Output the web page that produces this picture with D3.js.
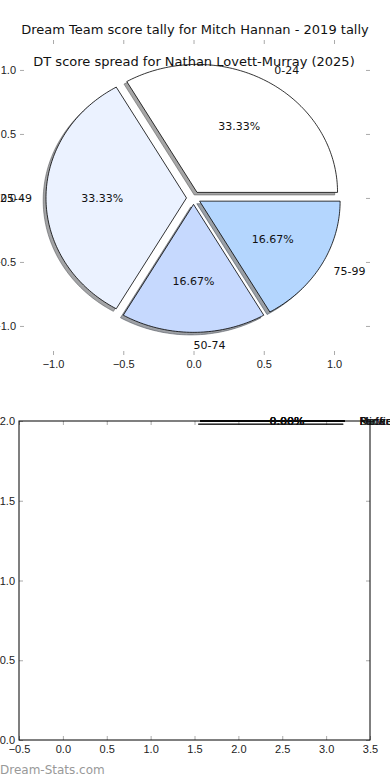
<!DOCTYPE html>
<html>
<head>
<meta charset="utf-8">
<script src="https://cdn.jsdelivr.net/npm/d3@7"></script>
<style>
  body { margin: 0; background: #fff; }
  svg { display: block; font-family: "DejaVu Sans", sans-serif; }
  .tick line { stroke: #aaa; }
  .tick text { fill: #222; font-size: 11px; }
</style>
</head>
<body>
<div id="chart"></div>
<script>
// top pie: score buckets
var buckets = ["0-24", "25-49", "50-74", "75-99"];
var bucketCounts = [2, 2, 1, 1];
var bucketColors = ["#ffffff", "#ebf2ff", "#c6d9fe", "#b4d6fe"];
var pieTicks = [-1.0, -0.5, 0.0, 0.5, 1.0];

// bottom pie: positions, all empty
var positions = ["Defender", "Midfield", "Ruck", "Forward"];
var positionCounts = [0, 0, 0, 0];
var bottomXTicks = [-0.5, 0.0, 0.5, 1.0, 1.5, 2.0, 2.5, 3.0, 3.5];
var bottomYTicks = [0.0, 0.5, 1.0, 1.5, 2.0];

var titleMain = "Dream Team score tally for Mitch Hannan - 2019 tally";
var titleSub = "DT score spread for Nathan Lovett-Murray (2025)";

var W = 390, H = 780;
var svg = d3.select('#chart').append('svg')
	.attr('width', W)
	.attr('height', H);

svg.append('rect').attr('width', W).attr('height', H).attr('fill', '#fff');

var fmt = d3.format('.1f');

// ---------- top axes ----------
var x1 = d3.scaleLinear().domain([-1.235, 1.256]).range([20, 370]),
    y1 = d3.scaleLinear().domain([-1.227, 1.234]).range([355, 40]);

var pieG = svg.append('g');

function tickAxis(g, axis, transform) {
	var a = g.append('g').attr('transform', transform).call(axis);
	a.select('.domain').remove();
	return a;
}

tickAxis(pieG, d3.axisBottom(x1).tickValues(pieTicks).tickFormat(fmt).tickSize(-4).tickPadding(5), 'translate(0,355)');
tickAxis(pieG, d3.axisTop(x1).tickValues(pieTicks).tickFormat('').tickSize(-4), 'translate(0,40)');
tickAxis(pieG, d3.axisLeft(y1).tickValues(pieTicks).tickFormat(fmt).tickSize(-4).tickPadding(4), 'translate(20,0)');
tickAxis(pieG, d3.axisRight(y1).tickValues(pieTicks).tickFormat('').tickSize(-4), 'translate(370,0)');

var explode = 0.05;
var arcs = d3.pie().sort(null)(bucketCounts);

// wedge path in data coords -> pixels (aspect not equal, so ellipse)
function wedgePath(cx, cy, r, a0, a1, sx, sy) {
	var pts = [[cx, cy]];
	var n = Math.max(2, Math.ceil((a1 - a0) / 0.02));
	d3.range(n + 1).forEach(function(i) {
		var t = a0 + (a1 - a0) * i / n;
		pts.push([cx + r * Math.cos(t), cy + r * Math.sin(t)]);
	});
	return d3.line().x(function(p) { return sx(p[0]); }).y(function(p) { return sy(p[1]); })(pts) + 'Z';
}

function shadowColor(c) {
	var k = d3.rgb(c);
	return d3.rgb(k.r * 0.3, k.g * 0.3, k.b * 0.3).toString();
}

var slices = arcs.map(function(a, i) {
	var mid = (a.startAngle + a.endAngle) / 2;
	return {
		label: buckets[i], color: bucketColors[i],
		a0: a.startAngle, a1: a.endAngle, mid: mid,
		cx: explode * Math.cos(mid), cy: explode * Math.sin(mid),
		pct: (a.endAngle - a.startAngle) / (2 * Math.PI) * 100
	};
});

slices.forEach(function(s) {
	var sc = shadowColor(s.color);
	pieG.append('path')
		.attr('d', wedgePath(s.cx - 0.02, s.cy - 0.02, 1, s.a0, s.a1, x1, y1))
		.attr('fill', sc).attr('fill-opacity', 0.5)
		.attr('stroke', sc).attr('stroke-opacity', 0.5).attr('stroke-width', 1);
	pieG.append('path')
		.attr('d', wedgePath(s.cx, s.cy, 1, s.a0, s.a1, x1, y1))
		.attr('fill', s.color)
		.attr('stroke', '#000').attr('stroke-width', 0.8)
		.attr('stroke-linejoin', 'miter');
});

slices.forEach(function(s) {
	var lx = s.cx + 1.1 * Math.cos(s.mid), ly = s.cy + 1.1 * Math.sin(s.mid);
	pieG.append('text')
		.attr('x', x1(lx)).attr('y', y1(ly)).attr('dy', '0.35em')
		.attr('text-anchor', lx > -1e-9 ? 'start' : 'end')
		.attr('font-size', 11).attr('fill', '#111')
		.text(s.label);
	var px = s.cx + 0.6 * Math.cos(s.mid), py = s.cy + 0.6 * Math.sin(s.mid);
	pieG.append('text')
		.attr('x', x1(px)).attr('y', y1(py)).attr('dy', '0.35em')
		.attr('text-anchor', 'middle')
		.attr('font-size', 11).attr('fill', '#111')
		.text(s.pct.toFixed(2) + '%');
});

svg.append('text').attr('x', 195).attr('y', 34).attr('text-anchor', 'middle')
	.attr('font-size', 13).attr('fill', '#111').text(titleMain);
svg.append('text').attr('x', 194).attr('y', 66).attr('text-anchor', 'middle')
	.attr('font-size', 13).attr('fill', '#111').text(titleSub);

// ---------- bottom axes ----------
var x2 = d3.scaleLinear().domain([-0.5, 3.5]).range([19, 370]),
    y2 = d3.scaleLinear().domain([0, 2]).range([740, 421]);

var bot = svg.append('g');

tickAxis(bot, d3.axisBottom(x2).tickValues(bottomXTicks).tickFormat(fmt).tickSize(-4).tickPadding(5), 'translate(0,740)');
tickAxis(bot, d3.axisTop(x2).tickValues(bottomXTicks).tickFormat('').tickSize(-4), 'translate(0,421)');
tickAxis(bot, d3.axisLeft(y2).tickValues(bottomYTicks).tickFormat(fmt).tickSize(-4).tickPadding(4), 'translate(19,0)');
tickAxis(bot, d3.axisRight(y2).tickValues(bottomYTicks).tickFormat('').tickSize(-4), 'translate(370,0)');

bot.append('rect')
	.attr('x', 19).attr('y', 421).attr('width', 351).attr('height', 319)
	.attr('fill', 'none').attr('stroke', '#000').attr('stroke-width', 1);

// empty pie collapses to lines at the top edge
var pcx = 1.563, pcy = 2.0, pr = 1.652;
var emptyArcs = d3.pie().sort(null)(positionCounts);
positions.forEach(function(p, i) {
	var a = emptyArcs[i] ? emptyArcs[i].startAngle : 0;
	bot.append('line')
		.attr('x1', x2(pcx - 0.02)).attr('y1', y2(pcy - 0.02))
		.attr('x2', x2(pcx - 0.02 + pr * Math.cos(a))).attr('y2', y2(pcy - 0.02 + pr * Math.sin(a)))
		.attr('stroke', '#000').attr('stroke-opacity', 0.5).attr('stroke-width', 1);
	bot.append('line')
		.attr('x1', x2(pcx)).attr('y1', y2(pcy))
		.attr('x2', x2(pcx + pr * Math.cos(a))).attr('y2', y2(pcy + pr * Math.sin(a)))
		.attr('stroke', '#000').attr('stroke-width', 1);
});
positions.forEach(function(p, i) {
	bot.append('text')
		.attr('x', x2(pcx + 0.6 * pr)).attr('y', y2(pcy)).attr('dy', '0.35em')
		.attr('text-anchor', 'middle').attr('font-size', 11).attr('fill', '#111')
		.text((positionCounts[i]).toFixed(2) + '%');
	bot.append('text')
		.attr('x', x2(pcx + 1.1 * pr)).attr('y', y2(pcy)).attr('dy', '0.35em')
		.attr('text-anchor', 'start').attr('font-size', 11).attr('fill', '#111')
		.text(p);
});

svg.append('text').attr('x', 0).attr('y', 774)
	.attr('font-size', 12).attr('fill', '#999').text('Dream-Stats.com');
</script>
</body>
</html>
